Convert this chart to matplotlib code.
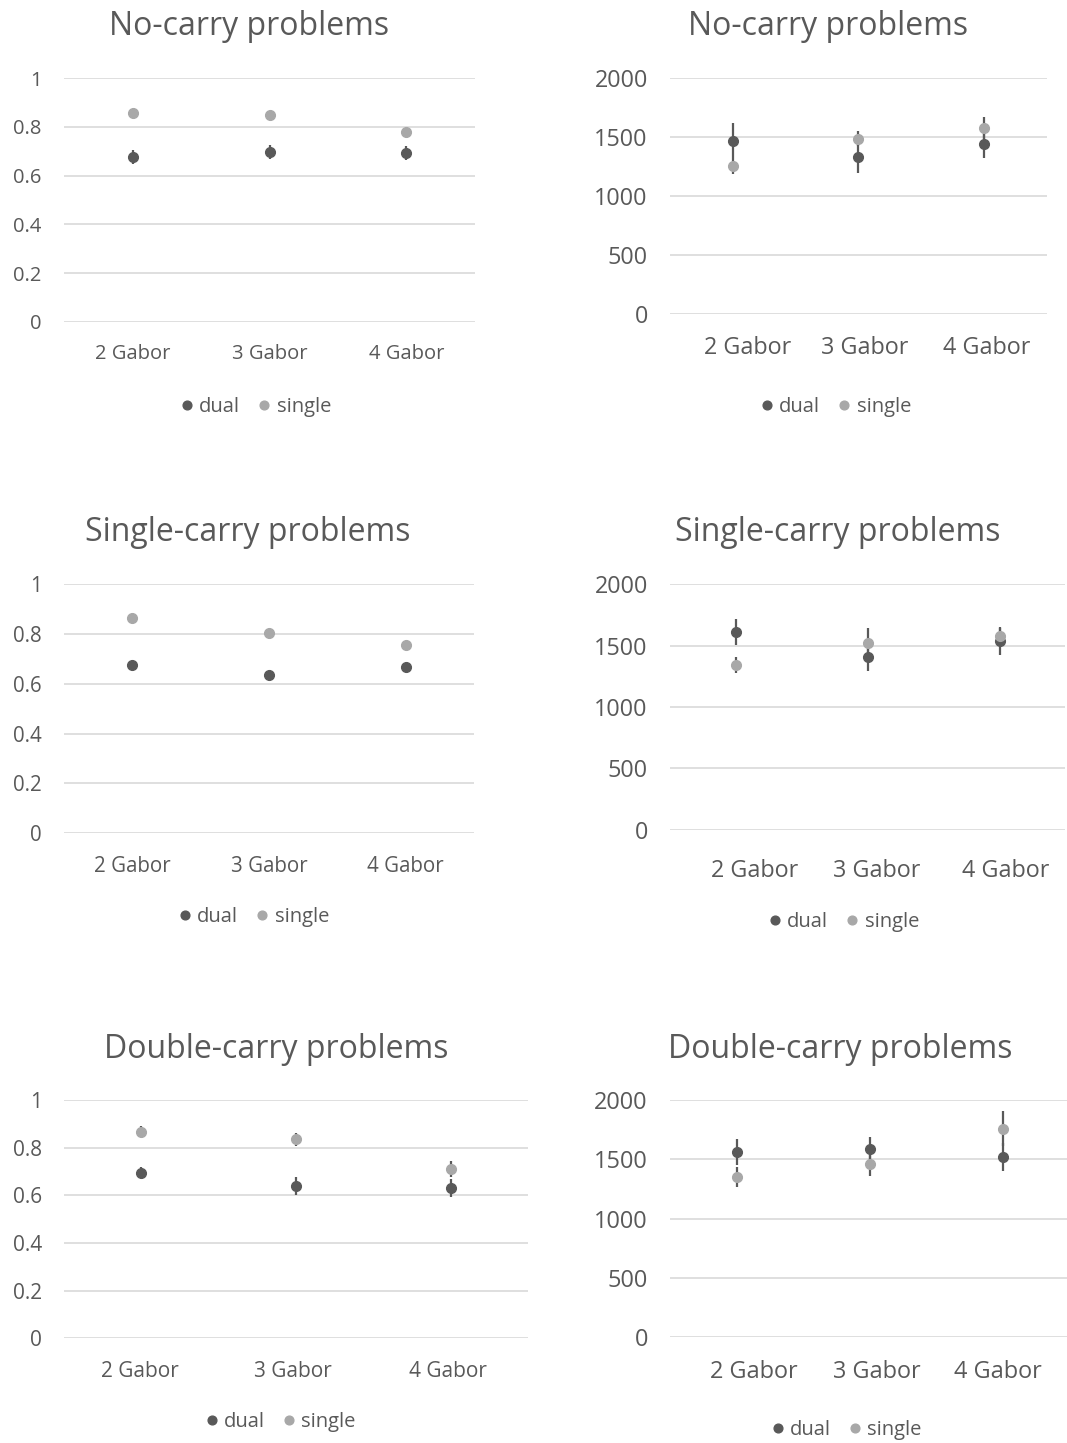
import matplotlib
matplotlib.use('Agg')
import matplotlib.pyplot as plt
from matplotlib.lines import Line2D

plt.rcParams['font.family'] = ['Open Sans', 'DejaVu Sans']

W, H = 1067, 1443
dark = '#595959'
light = '#a8a8a8'
grid_col = '#d9d9d9'
text_col = '#595959'

cats = ['2 Gabor', '3 Gabor', '4 Gabor']

# accuracy
nc_acc_dual = [0.675, 0.697, 0.693]
nc_acc_dual_err = [0.029, 0.029, 0.030]
nc_acc_single = [0.857, 0.851, 0.781]
nc_acc_single_err = [0.005, 0.005, 0.006]
sc_acc_dual = [0.677, 0.635, 0.667]
sc_acc_dual_err = [0.010, 0.012, 0.018]
sc_acc_single = [0.863, 0.804, 0.757]
sc_acc_single_err = [0.005, 0.005, 0.005]
dc_acc_dual = [0.694, 0.638, 0.632]
dc_acc_dual_err = [0.023, 0.037, 0.038]
dc_acc_single = [0.866, 0.835, 0.710]
dc_acc_single_err = [0.023, 0.028, 0.034]

# reaction times
nc_rt_dual = [1470, 1334, 1445]
nc_rt_dual_err = [148, 141, 120]
nc_rt_single = [1255, 1487, 1578]
nc_rt_single_err = [70, 65, 90]
sc_rt_dual = [1609, 1407, 1535]
sc_rt_dual_err = [106, 111, 110]
sc_rt_single = [1340, 1524, 1576]
sc_rt_single_err = [65, 117, 75]
dc_rt_dual = [1562, 1585, 1520]
dc_rt_dual_err = [107, 101, 121]
dc_rt_single = [1351, 1461, 1759]
dc_rt_single_err = [87, 99, 149]

acc_ticks = [0, 0.2, 0.4, 0.6, 0.8, 1]
acc_labels = ['0', '0.2', '0.4', '0.6', '0.8', '1']
rt_ticks = [0, 500, 1000, 1500, 2000]
rt_labels = ['0', '500', '1000', '1500', '2000']

fig = plt.figure(figsize=(W / 100, H / 100), dpi=100)


def panel(rect, title, title_xy, legend_xy, dual, dual_err, single, single_err,
          ticks, labels, tick_fs, xpad, label_shift=(0, 0, 0)):
    x0, x1, ytop, ybot = rect
    ax = fig.add_axes([x0 / W, 1 - ybot / H, (x1 - x0) / W, (ybot - ytop) / H])
    xs = list(range(len(cats)))
    ax.errorbar(xs, dual, yerr=dual_err, fmt='none', ecolor=dark, elinewidth=1.6, capsize=0, zorder=3)
    ax.errorbar(xs, single, yerr=single_err, fmt='none', ecolor=dark, elinewidth=1.6, capsize=0, zorder=3)
    ax.plot(xs, dual, 'o', color=dark, markersize=7, zorder=4, clip_on=False)
    ax.plot(xs, single, 'o', color=light, markersize=7, zorder=5, clip_on=False)
    ax.set_xlim(-0.5, 2.5)
    ax.set_ylim(ticks[0], ticks[-1])
    ax.set_yticks(ticks)
    ax.set_yticklabels(labels)
    # category labels sit a little off the points in the RT panels
    ax.set_xticks([x + s for x, s in zip(xs, label_shift)])
    ax.set_xticklabels(cats)
    ax.tick_params(length=0, labelsize=tick_fs, labelcolor=text_col)
    ax.tick_params(axis='y', pad=16)
    ax.tick_params(axis='x', pad=xpad)
    for s in ax.spines.values():
        s.set_visible(False)
    ax.grid(axis='y', color=grid_col, linewidth=1.2, zorder=0)
    ax.set_axisbelow(True)
    fig.text(title_xy[0] / W, 1 - title_xy[1] / H, title, ha='center', va='baseline',
             fontsize=23, color=text_col)
    handles = [Line2D([], [], marker='o', linestyle='none', color=dark, markersize=6.3),
               Line2D([], [], marker='o', linestyle='none', color=light, markersize=6.3)]
    fig.legend(handles, ['dual', 'single'], loc='center',
               bbox_to_anchor=(legend_xy[0] / W, 1 - legend_xy[1] / H), ncol=2,
               frameon=False, fontsize=14.5, labelcolor=text_col, handlelength=0.6,
               handletextpad=0.3, columnspacing=0.9)
    return ax


panel((64, 475, 78.3, 321.7), 'No-carry problems', (249, 35), (256, 407),
      nc_acc_dual, nc_acc_dual_err, nc_acc_single, nc_acc_single_err, acc_ticks, acc_labels, 14.5, 16)
panel((670, 1046.7, 78.3, 313.7), 'No-carry problems', (828, 35), (836, 407),
      nc_rt_dual, nc_rt_dual_err, nc_rt_single, nc_rt_single_err, rt_ticks, rt_labels, 16.8, 16,
      (0.12, 0.05, 0.02))
panel((64, 474, 584.3, 833), 'Single-carry problems', (248, 541), (254, 917),
      sc_acc_dual, sc_acc_dual_err, sc_acc_single, sc_acc_single_err, acc_ticks, acc_labels, 14.8, 16.5)
panel((670, 1065.4, 584.3, 829.7), 'Single-carry problems', (838, 541), (844, 922),
      sc_rt_dual, sc_rt_dual_err, sc_rt_single, sc_rt_single_err, rt_ticks, rt_labels, 16.8, 21,
      (0.14, 0.07, 0.045))
panel((64, 528.4, 1100, 1338.3), 'Double-carry problems', (276, 1058), (281, 1422),
      dc_acc_dual, dc_acc_dual_err, dc_acc_single, dc_acc_single_err, acc_ticks, acc_labels, 15, 16.5,
      (-0.01, -0.02, -0.02))
panel((670, 1070, 1100, 1337.3), 'Double-carry problems', (840, 1058), (847, 1430),
      dc_rt_dual, dc_rt_dual_err, dc_rt_single, dc_rt_single_err, rt_ticks, rt_labels, 16.9, 16.5,
      (0.13, 0.05, -0.04))

fig.savefig('out.png', dpi=100, facecolor='white')
